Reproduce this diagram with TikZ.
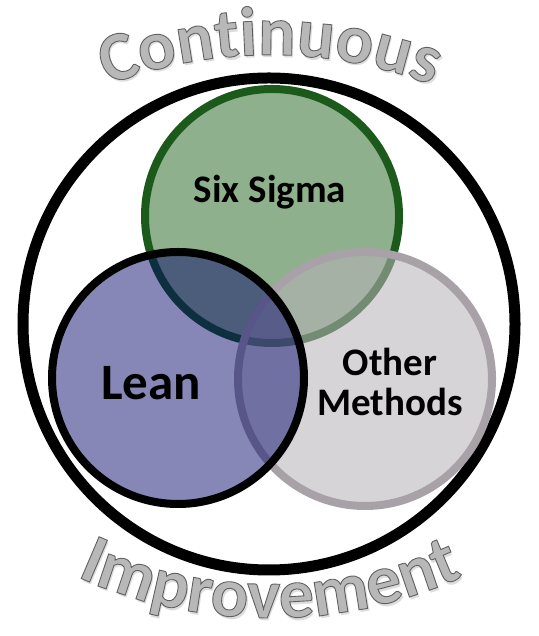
\documentclass[tikz,border=0pt]{standalone}
\usepackage{fontspec}
\setmainfont{Carlito}
\usepackage{xcolor}
\usepackage{tikz}
\usetikzlibrary{decorations.text}
\definecolor{sixfill}{HTML}{8FB08C}
\definecolor{sixline}{HTML}{1B5A1B}
\definecolor{leanc}{HTML}{000068}
\definecolor{otherc}{HTML}{B9B3B9}
\definecolor{otherline}{HTML}{A8A2A8}
\definecolor{wordc}{HTML}{B8B8B8}
\definecolor{shadec}{HTML}{DDDDDD}
\newcommand\wordfont{\fontsize{70}{70}\selectfont\bfseries}
\newcommand\wordline{\special{pdf:literal direct 2 Tr 0.9 w 0.38 G}}
\tikzset{
  ring/.style={line width=8pt},
  lbl/.style={font=\fontsize{39}{40}\selectfont\bfseries,align=center,inner sep=0pt},
  arch/.style={decorate,decoration={text along path,text align=center,text={#1}}}
}

\begin{document}
\begin{tikzpicture}[x=1pt,y=1pt]
\useasboundingbox (0,0) rectangle (538,636);
\fill[white] (0,0) rectangle (538,636);
\coordinate (O) at (269,312);
\coordinate (S) at (272,420);
\coordinate (L) at (178,258);
\coordinate (M) at (365,257);
\draw[line width=11pt] (O) circle (246);
\draw[ring,sixline,fill=sixfill] (S) circle (127);
\draw[ring,otherline,fill=otherc,fill opacity=0.56] (M) circle (127);
\draw[ring,black,fill=leanc,fill opacity=0.47] (L) circle (126);
\node[lbl,anchor=base] (six) at (270,433) {Six Sigma};
\node[lbl,font=\fontsize{51}{52}\selectfont\bfseries,anchor=base] (lean) at (151,236) {Lean};
\node[lbl] (other) at (390,254.5) {Other\\Methods};
% arched words, shadow first
\path[arch={|\wordfont\color{shadec}|Continuous}] (272,128) ++(125:450) arc[start angle=125,end angle=55,radius=450];
\path[arch={|\wordfont\color{shadec}|Improvement}] (272,485) ++(233:470) arc[start angle=233,end angle=307,radius=470];
\begin{scope}
\path[arch={|\wordfont\color{wordc}\wordline|Continuous}] (270,131) ++(125:450) arc[start angle=125,end angle=55,radius=450];
\path[arch={|\wordfont\color{wordc}\wordline|Improvement}] (270,488) ++(233:470) arc[start angle=233,end angle=307,radius=470];
\end{scope}
\end{tikzpicture}
\end{document}
